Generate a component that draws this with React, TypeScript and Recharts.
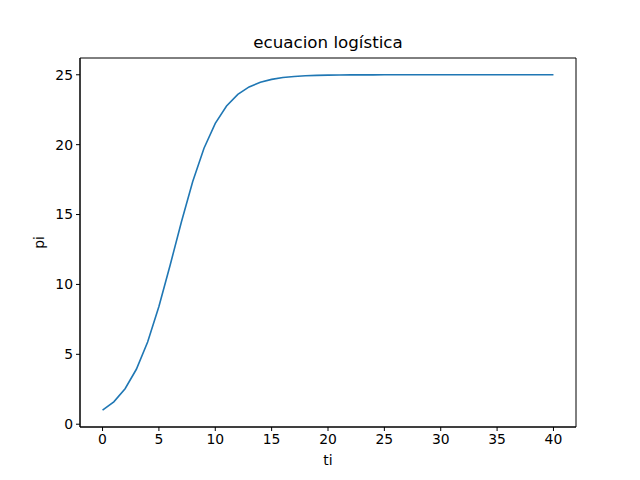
import { LineChart, Line, XAxis, YAxis, Label, ReferenceArea } from "recharts";

const ti = [
  0, 1, 2, 3, 4, 5, 6, 7, 8, 9, 10, 11, 12, 13, 14, 15, 16, 17, 18, 19, 20,
  21, 22, 23, 24, 25, 26, 27, 28, 29, 30, 31, 32, 33, 34, 35, 36, 37, 38, 39, 40,
];
const pi = [
  1.0, 1.6, 2.54, 3.93, 5.88, 8.42, 11.39, 14.49, 17.36, 19.74, 21.52, 22.77,
  23.6, 24.13, 24.46, 24.67, 24.8, 24.88, 24.93, 24.955, 24.973, 24.984, 24.99,
  24.994, 24.996, 24.998, 24.999, 25, 25, 25, 25, 25, 25, 25, 25, 25, 25, 25,
  25, 25, 25,
];
const xTicks = [0, 5, 10, 15, 20, 25, 30, 35, 40];
const yTicks = [0, 5, 10, 15, 20, 25];
const xDomain = [-2, 42];
const yDomain = [-0.2, 26.2];

const data = ti.map((t, i) => ({ ti: t, pi: pi[i] }));

const font = "DejaVu Sans";
const tickStyle = { fill: "#000", fontSize: 13.9, fontFamily: font };

export default function App() {
  return (
    <div
      style={{
        position: "absolute",
        left: 0,
        top: 0,
        width: 640,
        height: 480,
        background: "#fff",
      }}
    >
      {/* Title */}
      <div
        style={{
          position: "absolute",
          left: 80,
          width: 496,
          top: 32,
          textAlign: "center",
          fontFamily: font,
          fontSize: 16.7,
          color: "#000",
          lineHeight: "20px",
        }}
      >
        ecuacion logística
      </div>
      <LineChart
        width={640}
        height={480}
        data={data}
        margin={{ top: 58, right: 64, bottom: 3, left: 20 }}
      >
        <XAxis
          dataKey="ti"
          type="number"
          domain={xDomain}
          ticks={xTicks}
          allowDataOverflow
          tickSize={4}
          tickMargin={3}
          height={50}
          axisLine={{ stroke: "#000", strokeWidth: 1 }}
          tickLine={{ stroke: "#000", strokeWidth: 1 }}
          tick={tickStyle}
        >
          <Label
            value="ti"
            position="insideBottom"
            offset={12}
            style={{ fill: "#000", fontSize: 13.9, fontFamily: font }}
          />
        </XAxis>
        <YAxis
          type="number"
          domain={yDomain}
          ticks={yTicks}
          allowDataOverflow
          tickSize={4}
          tickMargin={3}
          width={60}
          axisLine={{ stroke: "#000", strokeWidth: 1 }}
          tickLine={{ stroke: "#000", strokeWidth: 1 }}
          tick={tickStyle}
        >
          <Label
            value="pi"
            angle={-90}
            position="insideLeft"
            offset={19}
            style={{ fill: "#000", fontSize: 13.9, fontFamily: font, textAnchor: "middle" }}
          />
        </YAxis>
        {/* frame: top and right spines */}
        <ReferenceArea
          x1={xDomain[0]}
          x2={xDomain[1]}
          y1={yDomain[0]}
          y2={yDomain[1]}
          fill="none"
          fillOpacity={0}
          stroke="#000"
          strokeWidth={1}
          ifOverflow="visible"
        />
        <Line
          dataKey="pi"
          stroke="#1f77b4"
          strokeWidth={1.6}
          dot={false}
          type="linear"
          isAnimationActive={false}
        />
      </LineChart>
    </div>
  );
}
